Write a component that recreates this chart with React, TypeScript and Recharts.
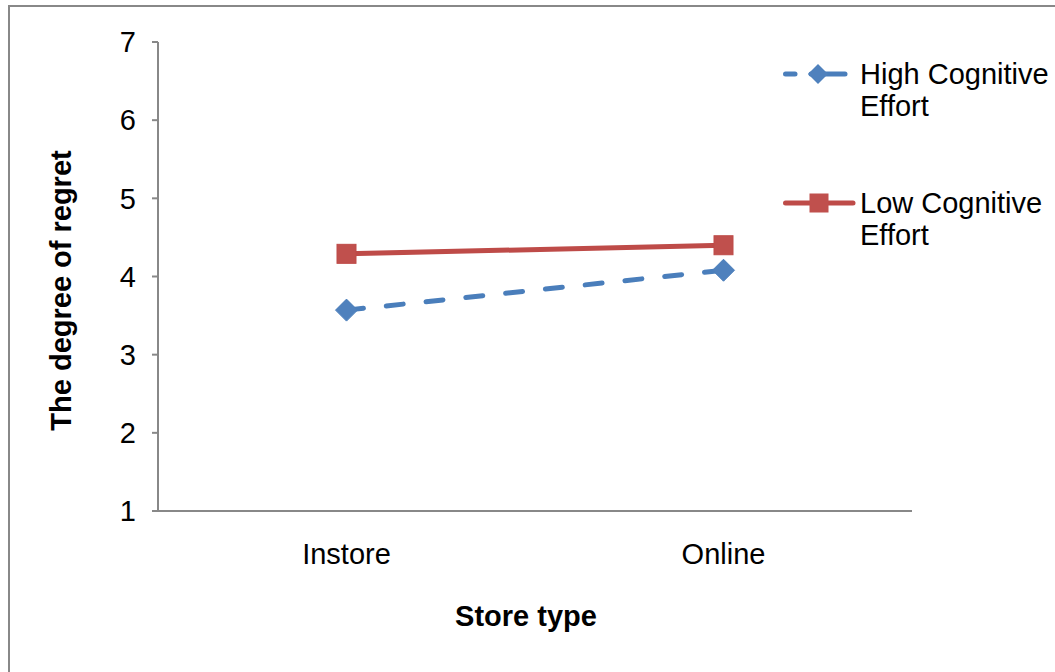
import React from "react";
import { LineChart, Line, XAxis, YAxis } from "recharts";

const storeTypes = ["Instore", "Online"];
const highEffort = [3.57, 4.08];
const lowEffort = [4.29, 4.4];
const yTicks = [1, 2, 3, 4, 5, 6, 7];

const FONT = '"Liberation Sans", Arial, sans-serif';
const AXIS = "#888888";

const data = storeTypes.map((store, i) => ({
    store,
    high: highEffort[i],
    low: lowEffort[i],
}));

const series = [
    { key: "high", name: "High Cognitive Effort", line: "#4A7EBB", marker: "#4F81BD", dashed: true },
    { key: "low", name: "Low Cognitive Effort", line: "#BE4B48", marker: "#C0504D", dashed: false },
];

const diamondDot = (props: any) => {
    const { cx, cy, index } = props;
    if (cx == null || cy == null) return null;
    const r = 11;
    return (
        <polygon
            key={`d-${index}`}
            points={`${cx},${cy - r} ${cx + r},${cy} ${cx},${cy + r} ${cx - r},${cy}`}
            fill="#4F81BD"
            stroke="#4A7EBB"
            strokeWidth={1}
        />
    );
};

const squareDot = (props: any) => {
    const { cx, cy, index } = props;
    if (cx == null || cy == null) return null;
    const s = 19;
    return (
        <rect
            key={`s-${index}`}
            x={cx - s / 2}
            y={cy - s / 2}
            width={s}
            height={s}
            fill="#C0504D"
            stroke="#BE4B48"
            strokeWidth={1}
        />
    );
};

const YTitle = (props: any) => {
    const vb = props.viewBox || { x: 0, y: 0, width: 0, height: 0 };
    const x = vb.x + 71;
    const y = vb.y + vb.height / 2 + 14;
    return (
        <text
            x={x}
            y={y}
            transform={`rotate(-90 ${x} ${y})`}
            textAnchor="middle"
            fontFamily={FONT}
            fontSize={29}
            fontWeight="bold"
            fill="#000"
        >
            The degree of regret
        </text>
    );
};

const XTitle = (props: any) => {
    const vb = props.viewBox || { x: 0, y: 0, width: 0, height: 0 };
    return (
        <text
            x={vb.x + vb.width / 2 - 9}
            y={vb.y + 115}
            textAnchor="middle"
            fontFamily={FONT}
            fontSize={29}
            fontWeight="bold"
            fill="#000"
        >
            Store type
        </text>
    );
};

function LegendIcon({ item }: { item: (typeof series)[number] }) {
    return (
        <svg width={77} height={32} style={{ flexShrink: 0 }}>
            {item.dashed ? (
                <>
                    <line x1={2.5} y1={16} x2={12} y2={16} stroke={item.line} strokeWidth={5} strokeLinecap="round" />
                    <line x1={28} y1={16} x2={62} y2={16} stroke={item.line} strokeWidth={5} strokeLinecap="round" />
                    <polygon points="35,6 45,16 35,26 25,16" fill={item.marker} />
                </>
            ) : (
                <>
                    <line x1={2.5} y1={16} x2={70} y2={16} stroke={item.line} strokeWidth={5} strokeLinecap="round" />
                    <rect x={26.5} y={6.5} width={19} height={19} fill={item.marker} />
                </>
            )}
        </svg>
    );
}

export default function App() {
    return (
        <div
            style={{
                position: "fixed",
                left: 0,
                top: 0,
                width: 1055,
                height: 672,
                overflow: "hidden",
                background: "#fff",
                fontFamily: FONT,
            }}
        >
            {/* outer frame, right/bottom edges fall outside the picture */}
            <div
                style={{
                    position: "absolute",
                    left: 8,
                    top: 5,
                    width: 1100,
                    height: 720,
                    border: "2px solid #888",
                    boxSizing: "border-box",
                }}
            />
            <div style={{ position: "absolute", left: 0, top: 0 }}>
                <LineChart
                    width={1055}
                    height={672}
                    data={data}
                    margin={{ top: 42, right: 143, bottom: 0, left: 0 }}
                >
                    <XAxis
                        dataKey="store"
                        scale="band"
                        height={161}
                        axisLine={{ stroke: AXIS, strokeWidth: 2 }}
                        tickLine={false}
                        tickSize={0}
                        tickMargin={32}
                        tick={{ fill: "#000", fontSize: 29, fontFamily: FONT }}
                        label={<XTitle />}
                    />
                    <YAxis
                        width={158}
                        domain={[1, 7]}
                        ticks={yTicks}
                        interval={0}
                        axisLine={{ stroke: AXIS, strokeWidth: 2 }}
                        tickLine={{ stroke: AXIS, strokeWidth: 2 }}
                        tickSize={6}
                        tickMargin={16}
                        tick={{ fill: "#000", fontSize: 29, fontFamily: FONT }}
                        label={<YTitle />}
                    />
                    <Line
                        dataKey="high"
                        name="High Cognitive Effort"
                        stroke="#4A7EBB"
                        strokeWidth={5}
                        strokeDasharray="17 23"
                        strokeLinecap="round"
                        dot={diamondDot}
                        activeDot={false}
                        isAnimationActive={false}
                    />
                    <Line
                        dataKey="low"
                        name="Low Cognitive Effort"
                        stroke="#BE4B48"
                        strokeWidth={5}
                        dot={squareDot}
                        activeDot={false}
                        isAnimationActive={false}
                    />
                </LineChart>
            </div>

            {/* legend */}
            {series.map((item, i) => (
                <div
                    key={item.key}
                    style={{
                        position: "absolute",
                        left: 783,
                        top: i === 0 ? 58 : 187,
                        display: "flex",
                        alignItems: "flex-start",
                    }}
                >
                    <LegendIcon item={item} />
                    <div style={{ width: 195, fontSize: 29, lineHeight: "32px", color: "#000" }}>
                        {item.name}
                    </div>
                </div>
            ))}
        </div>
    );
}
